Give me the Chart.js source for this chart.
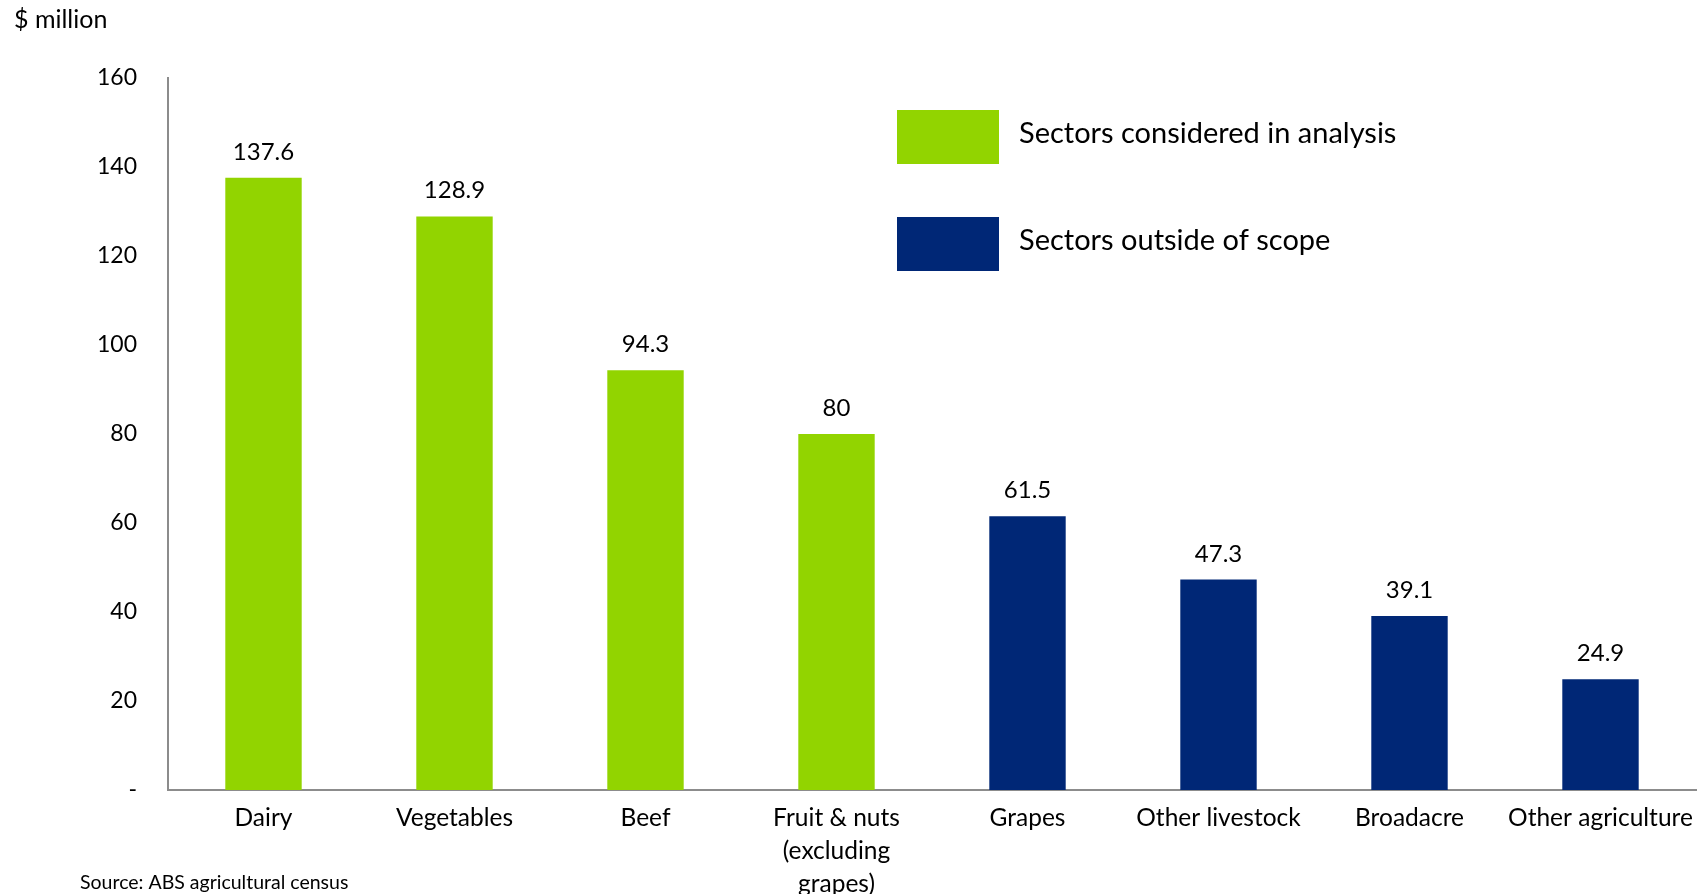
<!DOCTYPE html>
<html>
<head>
<meta charset="utf-8">
<script src="https://cdn.jsdelivr.net/npm/chart.js@4.4.1/dist/chart.umd.min.js"></script>
<style>
  body { margin: 0; background: #fff; }
  #wrap { width: 1706px; height: 894px; position: relative; }
</style>
</head>
<body>
<div id="wrap"><canvas id="sectorChart"></canvas></div>
<script>
const sectors = ["Dairy", "Vegetables", "Beef", ["Fruit & nuts", "(excluding", "grapes)"], "Grapes", "Other livestock", "Broadacre", "Other agriculture"];
const values = [137.6, 128.9, 94.3, 80, 61.5, 47.3, 39.1, 24.9];
const inScope = [true, true, true, true, false, false, false, false];
const legendNames = ["Sectors considered in analysis", "Sectors outside of scope"];
const yTicks = [0, 20, 40, 60, 80, 100, 120, 140, 160];

const GREEN = "#92d400";
const NAVY = "#002776";
const FONT = "Lato, 'Open Sans', sans-serif";

// value labels above bars, the boxed legend and the loose captions
const extras = {
  id: "extras",
  afterDatasetsDraw(chart) {
    const ctx = chart.ctx;
    const meta = chart.getDatasetMeta(0);
    ctx.save();
    ctx.fillStyle = "#000";
    ctx.font = "24px " + FONT;
    ctx.textAlign = "center";
    ctx.textBaseline = "alphabetic";
    meta.data.forEach((bar, i) => {
      ctx.fillText(String(values[i]), bar.x, bar.y - 18);
    });

    // legend
    const area = chart.chartArea;
    const bx = area.left + 729;
    [GREEN, NAVY].forEach((c, i) => {
      const by = area.top + 32 + i * 107;
      ctx.fillStyle = c;
      ctx.fillRect(bx, by, 102, 54);
      ctx.fillStyle = "#000";
      ctx.font = "29px " + FONT;
      ctx.textAlign = "left";
      ctx.textBaseline = "middle";
      ctx.fillText(legendNames[i], bx + 122, by + 24);
    });

    ctx.font = "25px " + FONT;
    ctx.textBaseline = "middle";
    ctx.fillText("$ million", 14, 20);
    ctx.font = "19.5px " + FONT;
    ctx.fillText("Source: ABS agricultural census", 80, 883);
    ctx.restore();
  }
};

new Chart(document.getElementById("sectorChart"), {
  type: "bar",
  data: {
    labels: sectors,
    datasets: [{
      data: values,
      backgroundColor: inScope.map(v => v ? GREEN : NAVY),
      categoryPercentage: 1,
      barPercentage: 0.4
    }]
  },
  options: {
    responsive: true,
    maintainAspectRatio: false,
    animation: false,
    layout: { padding: { top: 78, right: 10, left: 0, bottom: 0 } },
    plugins: { legend: { display: false }, tooltip: { enabled: false } },
    scales: {
      x: {
        grid: { display: false, drawTicks: false },
        border: { color: "#8c8c8c", width: 2 },
        ticks: {
          color: "#000",
          padding: 12,
          maxRotation: 0,
          autoSkip: false,
          font: { family: FONT, size: 24.5, lineHeight: 1.34 }
        },
        afterFit(scale) { scale.height = 104; }
      },
      y: {
        min: 0,
        max: 160,
        grid: { display: false, drawTicks: false },
        border: { color: "#8c8c8c", width: 2 },
        afterBuildTicks(scale) { scale.ticks = yTicks.map(v => ({ value: v })); },
        ticks: {
          color: "#000",
          padding: 31,
          font: { family: FONT, size: 23 },
          callback: v => v === 0 ? "-" : v
        },
        afterFit(scale) { scale.width = 168; }
      }
    }
  },
  plugins: [extras]
});
</script>
</body>
</html>
